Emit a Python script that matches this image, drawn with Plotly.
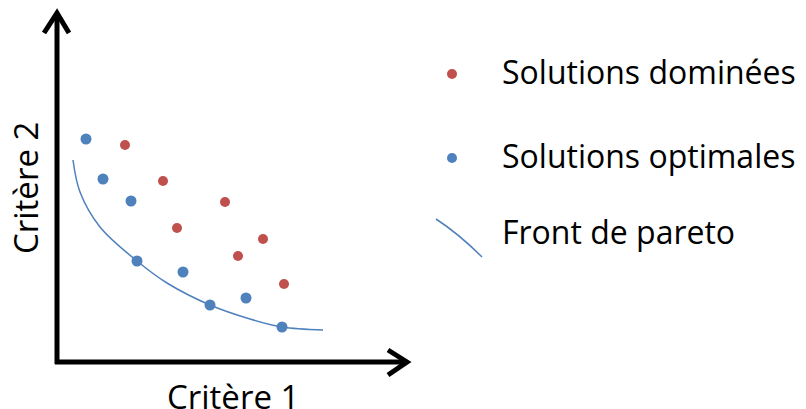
import plotly.graph_objects as go

# points, origin at the axes corner (x to the right, y upwards)
optimal_x = [29, 46, 74, 80, 126, 153, 189, 225]
optimal_y = [223, 183, 161, 101, 90, 57, 64, 35]

dominated_x = [68, 106, 168, 120, 206, 181, 227]
dominated_y = [217, 181, 160, 134, 123, 106, 78]

front_x = [16, 23, 43, 80, 110, 153, 193, 225, 266]
front_y = [202, 170, 135, 101, 79, 57, 43, 35, 32]

legend_labels = ["Solutions dominées", "Solutions optimales", "Front de pareto"]
axis_labels = ["Critère 1", "Critère 2"]

BLUE = "#4f81bd"
RED = "#c0504d"
FONT = "Open Sans, sans-serif"

fig = go.Figure()

fig.add_trace(go.Scatter(
    x=front_x, y=front_y, mode="lines",
    line={"color": BLUE, "width": 1.5, "shape": "spline", "smoothing": 1.0},
    hoverinfo="skip",
))
fig.add_trace(go.Scatter(
    x=dominated_x, y=dominated_y, mode="markers",
    marker={"color": RED, "size": 10},
))
fig.add_trace(go.Scatter(
    x=optimal_x, y=optimal_y, mode="markers",
    marker={"color": BLUE, "size": 11},
))

axis_line = {"color": "black", "width": 5}
# axes with open arrow heads
fig.add_shape(type="line", x0=0, y0=-2, x1=0, y1=348, line=axis_line)
fig.add_shape(type="line", x0=-2, y0=0, x1=349, y1=0, line=axis_line)
fig.add_shape(type="path", path="M -13,329 L 0,349 L 12,329", line=axis_line)
fig.add_shape(type="path", path="M 331,12 L 350,0 L 331,-13", line=axis_line)

# axis titles
fig.add_annotation(x=176, y=-34, text=axis_labels[0], showarrow=False,
                   font={"size": 33, "color": "black", "family": FONT},
                   xanchor="center", yanchor="middle")
fig.add_annotation(x=-32, y=174, text=axis_labels[1], showarrow=False, textangle=-90,
                   font={"size": 33, "color": "black", "family": FONT},
                   xanchor="center", yanchor="middle")

# hand-made legend on the right
legend_y = [291, 207, 131]
fig.add_shape(type="circle", x0=390, y0=283, x1=400, y1=293, fillcolor=RED, line_width=0)
fig.add_shape(type="circle", x0=390, y0=199, x1=400, y1=209, fillcolor=BLUE, line_width=0)
fig.add_shape(type="path", path="M 379,143 Q 402,128 425,105",
              line={"color": BLUE, "width": 1.5})
for label, y in zip(legend_labels, legend_y):
    fig.add_annotation(x=443, y=y, text=label, showarrow=False,
                       font={"size": 32, "color": "black", "family": FONT},
                       xanchor="left", yanchor="middle")

fig.update_layout(
    width=806, height=409,
    margin={"l": 0, "r": 0, "t": 0, "b": 0},
    paper_bgcolor="white", plot_bgcolor="white",
    showlegend=False,
    xaxis={"range": [-57, 749], "visible": False, "fixedrange": True},
    yaxis={"range": [-47, 362], "visible": False, "fixedrange": True},
)

fig.write_html("out.html", config={"displayModeBar": False},
               post_script="document.body.style.margin='0';")
